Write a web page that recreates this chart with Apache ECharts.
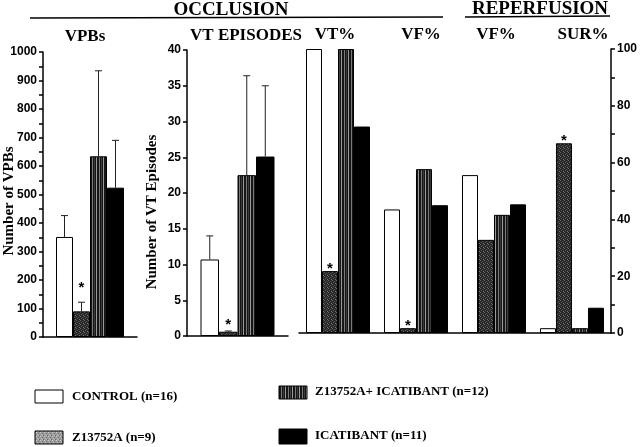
<!DOCTYPE html>
<html><head><meta charset="utf-8">
<script src="https://cdn.jsdelivr.net/npm/echarts@6/dist/echarts.min.js"></script>
<style>html,body{margin:0;padding:0;background:#fff}#c{width:640px;height:447px}</style>
</head><body><div id="c"></div>
<script>
// ---- data ----
const groups = ['CONTROL (n=16)', 'Z13752A (n=9)', 'Z13752A+ ICATIBANT (n=12)', 'ICATIBANT (n=11)'];
const vpbValues = [351, 90, 634, 524];
const vpbErrTop = [426, 122, 934, 690];
const vtEpValues = [10.7, 0.6, 22.5, 25.1];
const vtEpErrTop = [14.0, 0.7, 36.4, 35.0];
const pctCategories = ['VT%', 'VF%', 'VF%', 'SUR%'];
const pctControl = [100, 43.5, 55.6, 1.7];
const pctZ = [21.8, 1.7, 32.8, 66.8];
const pctZI = [100, 57.7, 41.6, 1.7];
const pctIcat = [72.7, 45, 45.3, 8.9];
// [min, max, tick interval, label step]
const vpbTicks = [0, 1000, 50, 100];
const vtTicks = [0, 40, 5, 5];
const pctTicks = [0, 100, 10, 20];
const sigVpb = [false, true, false, false];
const sigVt = [false, true, false, false];
const sigPctZ = [true, true, false, true];

// ---- patterns ----
function pat(w, h, bg, dots) {
  const c = document.createElement('canvas'); c.width = w; c.height = h;
  const g = c.getContext('2d'); g.fillStyle = bg; g.fillRect(0, 0, w, h);
  dots.forEach(d => { g.fillStyle = d[2]; g.fillRect(d[0], d[1], d[3] || 1, d[4] || 1); });
  return { image: c, repeat: 'repeat' };
}
const zFill = pat(4, 4, '#262626', [[0,0,'#6a6a6a'],[2,1,'#505050'],[1,2,'#5e5e5e'],[3,3,'#777'],[3,1,'#3a3a3a']]);
const ziFill = pat(7, 4, '#161616', [[1,0,'#7a7a7a',1,4],[3,0,'#3c3c3c',1,4],[5,0,'#9a9a9a',1,4]]);
const zLegFill = pat(4, 4, '#9a9a9a', [[0,0,'#cfcfcf'],[2,1,'#777'],[1,2,'#bbb'],[3,3,'#666'],[2,3,'#c4c4c4']]);
const fills = ['#ffffff', zFill, ziFill, '#000000'];

const serif = '"Liberation Serif","Times New Roman",serif';
const sans = '"Liberation Sans",Arial,sans-serif';

const chart = echarts.init(document.getElementById('c'));

function yAx(grid, t, pos) {
  return {
    type: 'value', gridIndex: grid, min: t[0], max: t[1], interval: t[2], position: pos || 'left',
    axisLine: { show: true, lineStyle: { color: '#000', width: 1.5 } },
    axisTick: { show: true, length: 4, lineStyle: { color: '#000', width: 1.5 } },
    splitLine: { show: false },
    axisLabel: { fontFamily: sans, fontWeight: 'bold', fontSize: 12, color: '#000', margin: 6,
      formatter: v => (Math.round(v) % t[3] === 0 ? String(v) : '') }
  };
}
function xAx(grid, data) {
  return {
    type: 'category', gridIndex: grid, data: data,
    axisLine: { show: true, lineStyle: { color: '#000', width: 1.5 } },
    axisTick: { show: false }, axisLabel: { show: false }
  };
}
function barSeries(grid, idx, values, bw, sig, dy) {
  return {
    type: 'bar', name: groups[idx], xAxisIndex: grid, yAxisIndex: grid,
    barWidth: bw, barGap: '0%',
    itemStyle: { color: fills[idx], borderColor: '#000', borderWidth: 1 },
    data: values.map((v, i) => ({
      value: v,
      label: (sig && sig[i]) ? { show: true, position: 'top', distance: 0, offset: [0, dy], formatter: '*',
        fontFamily: sans, fontWeight: 'bold', fontSize: 15, lineHeight: 15, color: '#000' } : { show: false }
    })),
    animation: false
  };
}
function errSeries(grid, vals, tops, bw) {
  return {
    type: 'custom', xAxisIndex: grid, yAxisIndex: grid, z: 5, animation: false,
    data: vals.map((v, i) => [0, v, tops[i], i]),
    renderItem: (p, api) => {
      const b = api.coord([api.value(0), api.value(1)]);
      const t = api.coord([api.value(0), api.value(2)]);
      const x = b[0] + (api.value(3) - 1.5) * bw;
      return { type: 'group', children: [
        { type: 'line', shape: { x1: x, y1: b[1], x2: x, y2: t[1] }, style: { stroke: '#222', lineWidth: 1 } },
        { type: 'line', shape: { x1: x - 3.5, y1: t[1], x2: x + 3.5, y2: t[1] }, style: { stroke: '#222', lineWidth: 1 } }
      ] };
    }
  };
}

const series = [];
for (let i = 0; i < 4; i++) series.push(barSeries(0, i, [vpbValues[i]], 17, i === 1 ? [sigVpb[i]] : null, -16));
series.push(errSeries(0, vpbValues, vpbErrTop, 17));
for (let i = 0; i < 4; i++) series.push(barSeries(1, i, [vtEpValues[i]], 18.5, i === 1 ? [sigVt[i]] : null, 1));
series.push(errSeries(1, vtEpValues, vtEpErrTop, 18.5));
const pctSets = [pctControl, pctZ, pctZI, pctIcat];
for (let i = 0; i < 4; i++) series.push(barSeries(2, i, pctSets[i], 16, i === 1 ? sigPctZ : null, 5));

function txt(s, x, y, size, rot) {
  return { type: 'text', x: x, y: y, rotation: rot || 0, style: { text: s, x: 0, y: 0, textAlign: 'center', textVerticalAlign: 'middle',
    font: 'bold ' + size + 'px ' + serif, fill: '#000' } };
}
function ltxt(s, x, y) {
  return { type: 'text', x: x, y: y, style: { text: s, textAlign: 'left', textVerticalAlign: 'middle',
    font: 'bold 13px ' + serif, fill: '#000' } };
}
function box(x, y, fill, h) {
  return { type: 'rect', shape: { x: x, y: y, width: 28, height: h || 13 }, style: { fill: fill, stroke: '#000', lineWidth: 1 } };
}

chart.setOption({
  animation: false,
  grid: [
    { left: 43, top: 52, width: 94, height: 285 },
    { left: 187, top: 50, width: 101, height: 286 },
    { left: 299, top: 49, width: 314, height: 284 }
  ],
  xAxis: [xAx(0, ['VPBs']), xAx(1, ['VT EPISODES']), xAx(2, pctCategories)],
  yAxis: [yAx(0, vpbTicks), yAx(1, vtTicks), yAx(2, pctTicks, 'right')],
  series: series,
  graphic: [
    txt('OCCLUSION', 231, 10, 19),
    { type: 'line', shape: { x1: 30, y1: 18, x2: 443, y2: 17 }, style: { stroke: '#000', lineWidth: 1.5 } },
    txt('REPERFUSION', 540, 9, 19),
    { type: 'line', shape: { x1: 465, y1: 17, x2: 610, y2: 16 }, style: { stroke: '#000', lineWidth: 1.5 } },
    txt('VPBs', 85, 37, 17),
    txt('VT EPISODES', 246, 36, 17),
    txt('VT%', 335, 35, 17),
    txt('VF%', 421, 35, 17),
    txt('VF%', 496, 35, 17),
    txt('SUR%', 583, 35, 17),
    txt('Number of VPBs', 9, 201, 15, Math.PI / 2),
    txt('Number of VT Episodes', 152, 212, 15, Math.PI / 2),
    box(35, 390, '#fff'), ltxt(groups[0], 72, 397),
    box(35, 431, zLegFill), ltxt(groups[1], 72, 438),
    box(279, 386, ziFill), ltxt(groups[2], 315, 392),
    box(279, 429, '#000', 15), ltxt(groups[3], 315, 436)
  ]
});
</script></body></html>
